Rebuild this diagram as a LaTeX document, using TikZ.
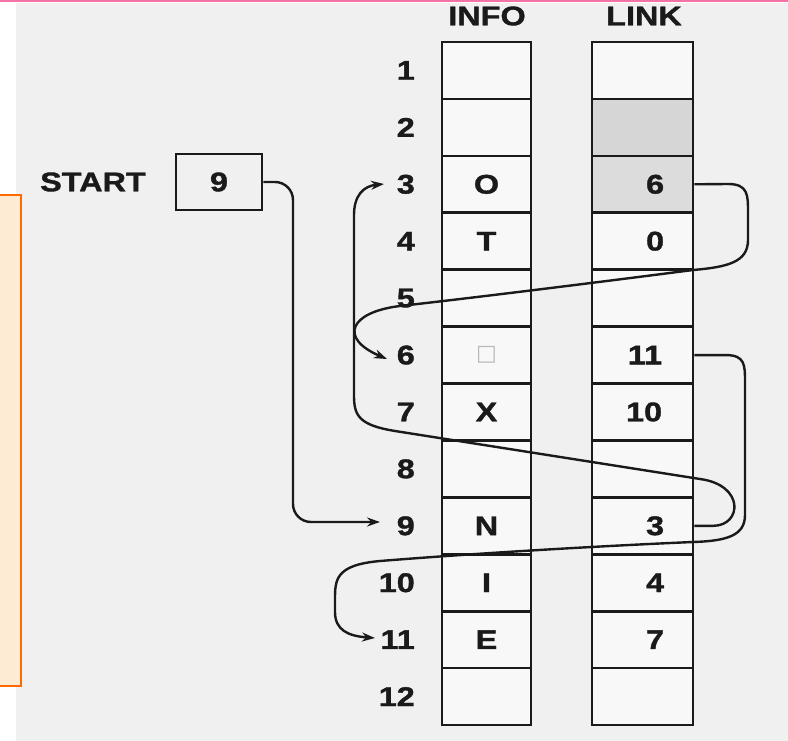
\documentclass[tikz,border=0pt]{standalone}
\usepackage{fontspec}
\setmainfont{Liberation Sans}[FakeStretch=1.2, BoldFeatures={FakeBold=1.3}]
\newfontfamily\symf{DejaVu Sans}
\usetikzlibrary{arrows.meta}
\definecolor{ink}{HTML}{1A1A1A}
\definecolor{bg}{HTML}{F0F0F0}
\definecolor{cellbg}{HTML}{F8F8F8}
\definecolor{shadeA}{HTML}{D6D6D6}
\definecolor{shadeB}{HTML}{DCDCDC}
\definecolor{pinkline}{HTML}{F472A8}
\definecolor{peach}{HTML}{FDEBD3}
\definecolor{orangeedge}{HTML}{FF6A00}
\begin{document}
\begin{tikzpicture}[x=1pt,y=-1pt,
  lab/.style={font=\fontsize{27}{30}\selectfont\bfseries, text=ink, inner sep=0pt},
  cell/.style={draw=ink, line width=2.6pt, minimum height=56.92pt, inner sep=0pt},
  infocell/.style={cell, minimum width=89pt},
  linkcell/.style={cell, minimum width=101pt},
  conn/.style={draw=ink, line width=2.4pt},
  arr/.style={conn, -{Stealth[length=13pt,width=9pt]}},
]
\useasboundingbox (0,0) rectangle (788,741);
\fill[bg] (16,3) rectangle (788,741);
\fill[pinkline] (0,0) rectangle (788,1.8);
\draw[fill=peach, draw=orangeedge, line width=2.4pt] (-2,195) rectangle (21,686);

% headers
\node[lab] (hinfo) at (487,16) {INFO};
\node[lab] (hlink) at (644,16) {LINK};

% table
\foreach \k/\f in {1/cellbg,2/shadeA,3/shadeB,4/cellbg,5/cellbg,6/cellbg,7/cellbg,8/cellbg,9/cellbg,10/cellbg,11/cellbg,12/cellbg}{
  \pgfmathsetmacro\yc{42+(\k-0.5)*56.92}
  \node[infocell, fill=cellbg] (i\k) at (486.5,\yc) {};
  \node[linkcell, fill=\f] (l\k) at (642.5,\yc) {};
  \node[lab, anchor=east] (n\k) at (415,\yc) {\k};
}

% info contents
\node[lab] (c3) at (i3) {O};
\node[lab] (c4) at (i4) {T};
\node[font=\symf\fontsize{22}{22}\selectfont, text=gray!55, inner sep=0pt] (c6) at (i6) {□};
\node[lab] (c7) at (i7) {X};
\node[lab] (c9) at (i9) {N};
\node[lab] (c10) at (i10) {I};
\node[lab] (c11) at (i11) {E};

% link contents
\node[lab, anchor=east] (v3) at ([xshift=-30pt]l3.east) {6};
\node[lab, anchor=east] (v4) at ([xshift=-30pt]l4.east) {0};
\node[lab, anchor=east] (v6) at ([xshift=-32pt]l6.east) {11};
\node[lab, anchor=east] (v7) at ([xshift=-32pt]l7.east) {10};
\node[lab, anchor=east] (v9) at ([xshift=-30pt]l9.east) {3};
\node[lab, anchor=east] (v10) at ([xshift=-30pt]l10.east) {4};
\node[lab, anchor=east] (v11) at ([xshift=-30pt]l11.east) {7};

% start
\node[lab, anchor=west] (st) at (40,182) {START};
\node[draw=ink, line width=2.6pt, minimum width=86pt, minimum height=56pt, lab] (sb) at (219,182) {9};

% arrow tips
\coordinate (t3) at (384,184);
\coordinate (t6) at (387,359);
\coordinate (t9) at (380,522);
\coordinate (t11) at (375,638);

% START -> 9
\draw[arr, rounded corners=18pt] (sb.east) -- (293,182) -- (293,522) -- (t9);

% 3 -> 6
\draw[arr] (l3.east) -- (728,184) .. controls (748,184) and (748,195) .. (748,212) -- (748,240)
  .. controls (748,262) and (728,267) .. (693,270)
  .. controls (600,282) and (480,297) .. (400,306)
  .. controls (350,312) and (338,338) .. (t6);

% 9 -> 3
\draw[arr] (l9.east) -- ++(19,0) .. controls (742,525.6) and (745,485) .. (700,479) -- (395,431)
  .. controls (358,425) and (354,415) .. (354,395) -- (354,215)
  .. controls (354,195) and (364,186) .. (t3);

% 6 -> 11
\draw[arr] (l6.east) -- ++(32,0) .. controls (745,355.3) and (745,365) .. (745,382) -- (745,515)
  .. controls (745,535) and (728,541) .. (693,542)
  .. controls (600,546) and (480,553) .. (380,561)
  .. controls (335,565) and (335,580) .. (335,600) -- (335,612)
  .. controls (335,630) and (348,636) .. (t11);
\end{tikzpicture}
\end{document}
